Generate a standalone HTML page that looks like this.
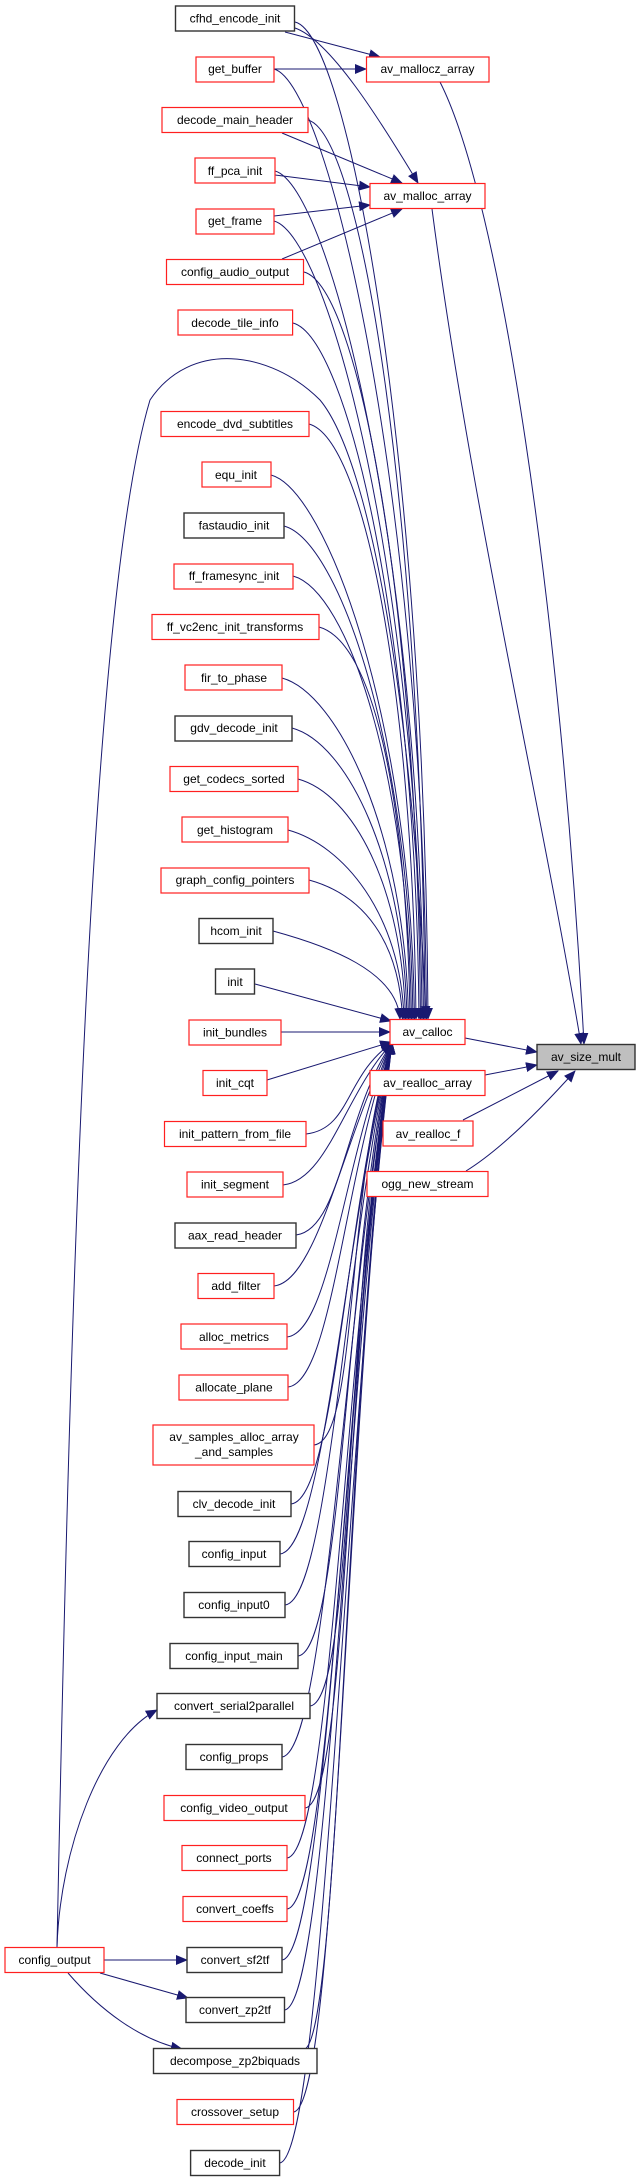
<!DOCTYPE html>
<html><head><meta charset="utf-8"><style>
html,body{margin:0;padding:0;background:#fff;}
svg{display:block;}
text{font-family:"Liberation Sans",sans-serif;font-size:12px;fill:#000;text-anchor:middle;}
.r{fill:#fff;stroke:#ff2020;stroke-width:1.2;}
.b{fill:#fff;stroke:#333;stroke-width:1.4;}
.e{fill:none;stroke:#191970;stroke-width:1;marker-end:url(#a);}
</style></head><body>
<svg width="640" height="2181" viewBox="0 0 640 2181" xmlns="http://www.w3.org/2000/svg">
<defs><marker id="a" markerUnits="userSpaceOnUse" markerWidth="12" markerHeight="10" refX="11" refY="5" orient="auto"><path d="M0,0 L12,5 L0,10 z" fill="#191970"/></marker></defs>
<g>
<path class="e" d="M295,22 C350,35 425,469 428,1019"/>
<path class="e" d="M274,69 C329,84 423.5,497 426.5,1019"/>
<path class="e" d="M308,120 C363,135 422,525 425,1019"/>
<path class="e" d="M275,171 C330,186 420.5,553 423.5,1019"/>
<path class="e" d="M274,221 C329,236 419,580 422,1019"/>
<path class="e" d="M304,272 C359,287 417.5,608 420.5,1019"/>
<path class="e" d="M293,323 C348,338 416,636 419,1019"/>
<path class="e" d="M309,424 C364,439 413,692 416,1019"/>
<path class="e" d="M271,475 C326,490 411.5,720 414.5,1019"/>
<path class="e" d="M284,526 C339,541 410,748 413,1019"/>
<path class="e" d="M293,576 C348,591 408.5,775 411.5,1019"/>
<path class="e" d="M319,627 C374,642 407,803 410,1019"/>
<path class="e" d="M282,678 C337,693 405.5,831 408.5,1019"/>
<path class="e" d="M292,728 C347,743 404,859 407,1019"/>
<path class="e" d="M298,779 C353,794 402.5,887 405.5,1019"/>
<path class="e" d="M288,830 C343,845 401,914 404,1019"/>
<path class="e" d="M309,880 C364,895 399.5,942 402.5,1019"/>
<path class="e" d="M273,931 C328,946 397,971 400,1019"/>
<path class="e" d="M255,984 L391,1021"/>
<path class="e" d="M281,1032 L390,1032"/>
<path class="e" d="M267,1080 L391,1042"/>
<path class="e" d="M306,1134 C351,1129 345,1075 392,1043"/>
<path class="e" d="M283,1185 C328,1180 345,1093 392,1043"/>
<path class="e" d="M296,1235 C341,1230 345,1111 392,1043"/>
<path class="e" d="M274,1286 C319,1281 345,1129 392,1043"/>
<path class="e" d="M287,1337 C332,1332 345,1146 392,1043"/>
<path class="e" d="M288,1387 C333,1382 345,1164 392,1043"/>
<path class="e" d="M314,1445 C359,1440 345,1184 392,1043"/>
<path class="e" d="M291,1504 C336,1499 345,1205 392,1043"/>
<path class="e" d="M280,1554 C325,1549 345,1223 392,1043"/>
<path class="e" d="M285,1605 C330,1600 345,1240 392,1043"/>
<path class="e" d="M298,1656 C343,1651 345,1258 392,1043"/>
<path class="e" d="M310,1706 C355,1701 345,1276 392,1043"/>
<path class="e" d="M282,1757 C327,1752 345,1294 392,1043"/>
<path class="e" d="M305,1808 C350,1803 345,1311 392,1043"/>
<path class="e" d="M287,1858 C332,1853 345,1329 392,1043"/>
<path class="e" d="M287,1909 C332,1904 345,1347 392,1043"/>
<path class="e" d="M282,1960 C327,1955 345,1365 392,1043"/>
<path class="e" d="M284.5,2010 C329,2005 345,1382 392,1043"/>
<path class="e" d="M305,2049 C340,2030 345,1400 392,1043"/>
<path class="e" d="M293.5,2112 C338,2107 345,1418 392,1043"/>
<path class="e" d="M279.6,2163 C324,2158 345,1436 392,1043"/>
<path class="e" d="M57,1947 C70,1300 90,600 150,400 C190,340 270,350 320,400 C370,460 412,700 426,1017"/>
<path class="e" d="M285,32 L380,57"/>
<path class="e" d="M274,69 L366,69"/>
<path class="e" d="M295,28 C330,40 380,120 418,183"/>
<path class="e" d="M282,133 L402,183"/>
<path class="e" d="M275,175 L370,187"/>
<path class="e" d="M274,216 L370,205"/>
<path class="e" d="M282,259 L402,209"/>
<path class="e" d="M440,82 C500,200 560,600 584,1044"/>
<path class="e" d="M432,209 C470,500 540,800 581,1044"/>
<path class="e" d="M465,1038 L537,1052"/>
<path class="e" d="M485,1075 L537,1065"/>
<path class="e" d="M463,1120 L558,1071"/>
<path class="e" d="M466,1171 C500,1150 540,1110 575,1071"/>
<path class="e" d="M57,1947 C60,1850 100,1740 157,1710"/>
<path class="e" d="M104,1960 L187,1960"/>
<path class="e" d="M100,1973 L188,1998"/>
<path class="e" d="M68,1973 C100,2010 140,2040 182,2049"/>
</g>
<g>
<rect class="b" x="175.5" y="6" width="119" height="25"/><text x="235" y="22.5">cfhd_encode_init</text>
<rect class="r" x="196" y="57" width="78" height="25"/><text x="235" y="73">get_buffer</text>
<rect class="r" x="162" y="107.5" width="146" height="25"/><text x="235" y="124">decode_main_header</text>
<rect class="r" x="195" y="158" width="80" height="25"/><text x="235" y="175">ff_pca_init</text>
<rect class="r" x="196" y="209" width="78" height="25"/><text x="235" y="225">get_frame</text>
<rect class="r" x="166.5" y="259.5" width="137" height="25"/><text x="235" y="276">config_audio_output</text>
<rect class="r" x="178" y="310" width="114.6" height="25"/><text x="235" y="327">decode_tile_info</text>
<rect class="r" x="161" y="411.5" width="148" height="25"/><text x="235" y="428">encode_dvd_subtitles</text>
<rect class="r" x="202" y="462" width="69" height="25"/><text x="236" y="479">equ_init</text>
<rect class="b" x="184" y="513" width="100" height="25"/><text x="234" y="529.5">fastaudio_init</text>
<rect class="r" x="174" y="564" width="119" height="25"/><text x="234" y="580">ff_framesync_init</text>
<rect class="r" x="152" y="614.5" width="167" height="25"/><text x="235" y="631">ff_vc2enc_init_transforms</text>
<rect class="r" x="185" y="665" width="97" height="25"/><text x="234" y="682">fir_to_phase</text>
<rect class="b" x="175" y="716" width="117" height="25"/><text x="234" y="732">gdv_decode_init</text>
<rect class="r" x="170" y="766.5" width="128" height="25"/><text x="234" y="783">get_codecs_sorted</text>
<rect class="r" x="182" y="817" width="106" height="25"/><text x="235" y="834">get_histogram</text>
<rect class="r" x="161" y="868" width="148" height="25"/><text x="235" y="884">graph_config_pointers</text>
<rect class="b" x="199" y="918.5" width="74" height="25"/><text x="236" y="935">hcom_init</text>
<rect class="b" x="215.5" y="969" width="39" height="25"/><text x="235" y="986">init</text>
<rect class="r" x="189" y="1020" width="92" height="25"/><text x="235" y="1036.5">init_bundles</text>
<rect class="r" x="203" y="1070.5" width="64" height="25"/><text x="235" y="1087">init_cqt</text>
<rect class="r" x="164.5" y="1121.5" width="141.5" height="25"/><text x="235" y="1138">init_pattern_from_file</text>
<rect class="r" x="187" y="1172" width="96" height="25"/><text x="235" y="1188.5">init_segment</text>
<rect class="b" x="175" y="1223" width="121" height="25"/><text x="235" y="1239.5">aax_read_header</text>
<rect class="r" x="198" y="1273.5" width="76" height="25"/><text x="236" y="1290">add_filter</text>
<rect class="r" x="181" y="1324" width="106" height="25"/><text x="234" y="1341">alloc_metrics</text>
<rect class="r" x="179" y="1375" width="109" height="25"/><text x="234" y="1391.5">allocate_plane</text>
<rect class="r" x="153" y="1425" width="161" height="40"/><text x="234" y="1441">av_samples_alloc_array</text><text x="234" y="1456">_and_samples</text>
<rect class="b" x="178" y="1491.5" width="113" height="25"/><text x="234" y="1508">clv_decode_init</text>
<rect class="b" x="189" y="1541.5" width="91" height="25"/><text x="234" y="1558">config_input</text>
<rect class="b" x="184" y="1592.5" width="101" height="25"/><text x="234" y="1609">config_input0</text>
<rect class="b" x="170" y="1643.5" width="128" height="25"/><text x="234" y="1660">config_input_main</text>
<rect class="b" x="157" y="1693.5" width="153" height="25"/><text x="234" y="1710">convert_serial2parallel</text>
<rect class="b" x="186" y="1744.5" width="96" height="25"/><text x="234" y="1761">config_props</text>
<rect class="r" x="164" y="1795.5" width="141" height="25"/><text x="234" y="1812">config_video_output</text>
<rect class="r" x="182" y="1845.5" width="105" height="25"/><text x="234" y="1862">connect_ports</text>
<rect class="r" x="183" y="1896.5" width="104" height="25"/><text x="235" y="1913">convert_coeffs</text>
<rect class="b" x="187" y="1947.5" width="95" height="25"/><text x="235" y="1964">convert_sf2tf</text>
<rect class="b" x="186" y="1997.5" width="98.5" height="25"/><text x="235" y="2014">convert_zp2tf</text>
<rect class="b" x="153.5" y="2048.5" width="163.5" height="25"/><text x="235" y="2065">decompose_zp2biquads</text>
<rect class="r" x="177" y="2099.5" width="116.5" height="25"/><text x="235" y="2116">crossover_setup</text>
<rect class="b" x="190.6" y="2150.5" width="89" height="25"/><text x="235" y="2167">decode_init</text>
<rect class="r" x="5" y="1947.5" width="99" height="25"/><text x="54.5" y="1964">config_output</text>
<rect class="r" x="366.5" y="57" width="122.5" height="25"/><text x="427.5" y="73">av_mallocz_array</text>
<rect class="r" x="370" y="183.5" width="115" height="25"/><text x="427.5" y="200">av_malloc_array</text>
<rect class="r" x="390" y="1019.5" width="75" height="25"/><text x="427.5" y="1036">av_calloc</text>
<rect class="r" x="370" y="1070.5" width="115" height="25"/><text x="427.5" y="1087">av_realloc_array</text>
<rect class="r" x="383" y="1121" width="90" height="25"/><text x="428" y="1138">av_realloc_f</text>
<rect class="r" x="367" y="1171.5" width="121" height="25"/><text x="427.5" y="1188">ogg_new_stream</text>
<rect x="537" y="1044.5" width="98" height="25" fill="#bfbfbf" stroke="#333" stroke-width="1.4"/><text x="586" y="1061">av_size_mult</text>
</g>
</svg>
</body></html>
